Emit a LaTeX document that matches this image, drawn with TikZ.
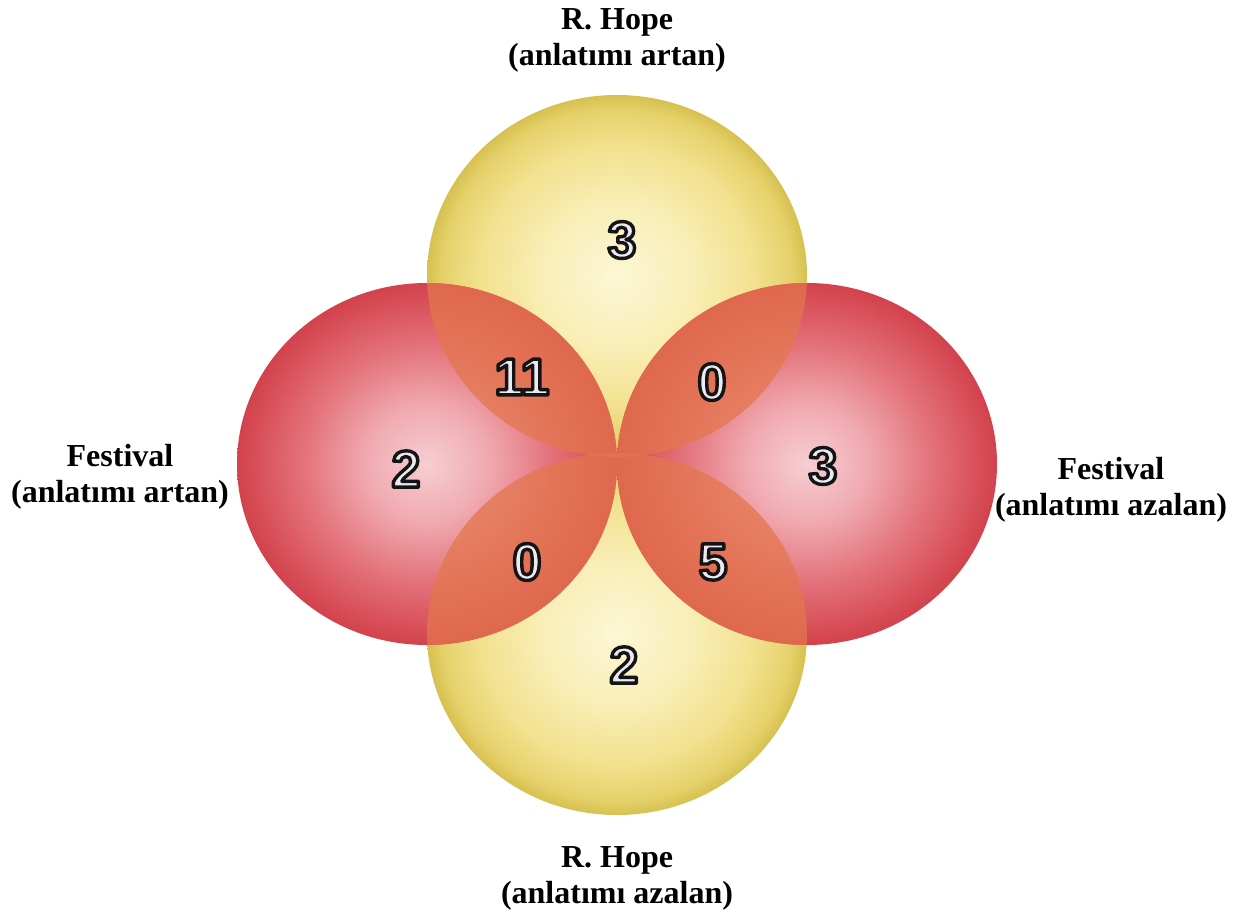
\documentclass[tikz,border=0pt]{standalone}
\usepackage{fontspec}
\setmainfont{Liberation Serif}
\newfontfamily\labfont{Liberation Serif}
\newfontfamily\numfont{Liberation Sans}
\definecolor{redA}{RGB}{246,206,210}
\definecolor{redB}{RGB}{240,170,176}
\definecolor{redC}{RGB}{228,116,124}
\definecolor{redD}{RGB}{217,82,92}
\definecolor{redE}{RGB}{210,66,76}
\definecolor{yelA}{RGB}{252,247,214}
\definecolor{yelB}{RGB}{249,238,182}
\definecolor{yelC}{RGB}{242,225,142}
\definecolor{yelD}{RGB}{229,209,106}
\definecolor{yelE}{RGB}{214,192,80}
\definecolor{overlap}{RGB}{228,118,78}
\definecolor{numgray}{RGB}{234,234,240}
\pgfdeclareradialshading{redball}{\pgfpointorigin}{color(0bp)=(redA); color(8bp)=(redB); color(16bp)=(redC); color(22bp)=(redD); color(25bp)=(redE); color(50bp)=(redE)}
\pgfdeclareradialshading{yelball}{\pgfpointorigin}{color(0bp)=(yelA); color(10bp)=(yelB); color(18bp)=(yelC); color(23bp)=(yelD); color(25bp)=(yelE); color(50bp)=(yelE)}
\newcommand\outlinedtext[1]{\special{pdf:literal direct 2 Tr 3.4 w 1 j 0.08 0.08 0.08 RG}#1\special{pdf:literal direct 0 Tr}}
\tikzset{
  num/.style={font=\numfont\bfseries\fontsize{52}{52}\selectfont, text=numgray, inner sep=0pt},
  lab/.style={font=\labfont\bfseries\fontsize{32}{36}\selectfont, align=center, inner sep=0pt},
  redc/.style={shading=redball},
  yelc/.style={shading=yelball}
}
\begin{document}
\begin{tikzpicture}[x=1pt,y=-1pt]
\fill[white] (0,0) rectangle (1259,920);
\useasboundingbox (0,0) rectangle (1259,920);
% yellow circles
\shade[yelc] (617,276) ellipse [x radius=190pt, y radius=181pt];
\shade[yelc] (617,634) ellipse [x radius=190pt, y radius=181pt];
% red circles
\shade[redc] (427,464) ellipse [x radius=190pt, y radius=181pt];
\shade[redc] (807,464) ellipse [x radius=190pt, y radius=181pt];
% overlaps
\begin{scope}
  \clip (427,464) ellipse [x radius=190pt, y radius=181pt];
  \fill[overlap, opacity=0.75] (617,276) ellipse [x radius=190pt, y radius=181pt];
  \fill[overlap, opacity=0.75] (617,634) ellipse [x radius=190pt, y radius=181pt];
\end{scope}
\begin{scope}
  \clip (807,464) ellipse [x radius=190pt, y radius=181pt];
  \fill[overlap, opacity=0.75] (617,276) ellipse [x radius=190pt, y radius=181pt];
  \fill[overlap, opacity=0.75] (617,634) ellipse [x radius=190pt, y radius=181pt];
\end{scope}
% numbers
\node[num] (ntop) at (622,240) {\outlinedtext{3}};
\node[num] (ntl) at (522,377) {\outlinedtext{11}};
\node[num] (ntr) at (712,382) {\outlinedtext{0}};
\node[num] (nl) at (406,469) {\outlinedtext{2}};
\node[num] (nr) at (823,466) {\outlinedtext{3}};
\node[num] (nbl) at (527,562) {\outlinedtext{0}};
\node[num] (nbr) at (713,562) {\outlinedtext{5}};
\node[num] (nbot) at (624,665) {\outlinedtext{2}};
% labels
\node[lab] (ltop) at (617,40) {R. Hope\\(anlatımı artan)};
\node[lab] (lbot) at (617,878) {R. Hope\\(anlatımı azalan)};
\node[lab] (lleft) at (120,477) {Festival\\(anlatımı artan)};
\node[lab] (lright) at (1111,490) {Festival\\(anlatımı azalan)};
\end{tikzpicture}
\end{document}
